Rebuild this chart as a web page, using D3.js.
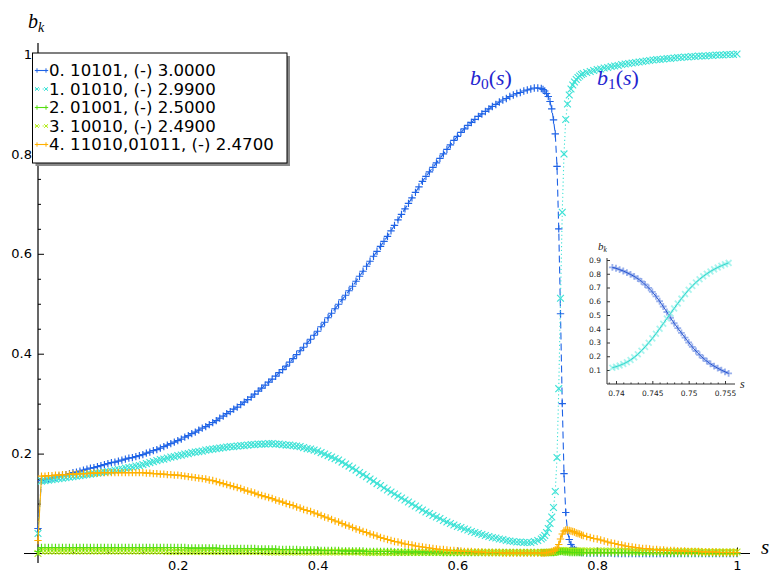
<!DOCTYPE html>
<html>
<head>
<meta charset="utf-8">
<script src="https://cdn.jsdelivr.net/npm/d3@7"></script>
<style>
body { margin: 0; background: #fff; }
text { font-family: "DejaVu Sans", sans-serif; }
.math { font-family: "Liberation Serif", serif; }
</style>
</head>
<body>
<svg id="chart" width="781" height="583"></svg>
<script>
// sampling of s (coarse, fine near the crossing, coarse again)
var sA = [
  0,0.005,0.01,0.015,0.02,0.025,0.03,0.035,0.04,0.045,
  0.05,0.055,0.06,0.065,0.07,0.075,0.08,0.085,0.09,0.095,
  0.1,0.105,0.11,0.115,0.12,0.125,0.13,0.135,0.14,0.145,
  0.15,0.155,0.16,0.165,0.17,0.175,0.18,0.185,0.19,0.195,
  0.2,0.205,0.21,0.215,0.22,0.225,0.23,0.235,0.24,0.245,
  0.25,0.255,0.26,0.265,0.27,0.275,0.28,0.285,0.29,0.295,
  0.3,0.305,0.31,0.315,0.32,0.325,0.33,0.335,0.34,0.345,
  0.35,0.355,0.36,0.365,0.37,0.375,0.38,0.385,0.39,0.395,
  0.4,0.405,0.41,0.415,0.42,0.425,0.43,0.435,0.44,0.445,
  0.45,0.455,0.46,0.465,0.47,0.475,0.48,0.485,0.49,0.495,
  0.5,0.505,0.51,0.515,0.52,0.525,0.53,0.535,0.54,0.545,
  0.55,0.555,0.56,0.565,0.57,0.575,0.58,0.585,0.59,0.595,
  0.6,0.605,0.61,0.615,0.62,0.625,0.63,0.635,0.64,0.645,
  0.65,0.655,0.66,0.665,0.67,0.675,0.68,0.685,0.69,0.695,
  0.7,0.705,0.71,0.715];
var sB = [
  0.72,0.7225,0.725,0.7275,
  0.73,0.7325,0.735,0.7375,
  0.74,0.7425,0.745,0.7475,
  0.75,0.7525,0.755,0.7575,
  0.76,0.7625,0.765,0.7675,
  0.77,0.7725,0.775,0.7775,
  0.78];
var sC = [
  0.785,0.79,0.795,
  0.8,0.805,0.81,0.815,0.82,0.825,0.83,0.835,0.84,0.845,
  0.85,0.855,0.86,0.865,0.87,0.875,0.88,0.885,0.89,0.895,
  0.9,0.905,0.91,0.915,0.92,0.925,0.93,0.935,0.94,0.945,
  0.95,0.955,0.96,0.965,0.97,0.975,0.98,0.985,0.99,0.995,
  1];

// b0
var b0A = [
  0.050,0.146,0.148,0.149,0.151,0.153,0.155,0.156,0.158,0.160,
  0.162,0.163,0.165,0.167,0.169,0.171,0.172,0.174,0.176,0.178,
  0.180,0.182,0.183,0.185,0.187,0.189,0.191,0.192,0.194,0.196,
  0.198,0.201,0.203,0.206,0.208,0.211,0.214,0.217,0.220,0.223,
  0.226,0.229,0.233,0.236,0.240,0.243,0.247,0.251,0.254,0.258,
  0.262,0.266,0.271,0.275,0.280,0.284,0.289,0.293,0.298,0.303,
  0.308,0.313,0.319,0.325,0.331,0.337,0.343,0.349,0.355,0.362,
  0.368,0.375,0.383,0.390,0.398,0.406,0.413,0.421,0.429,0.437,
  0.445,0.454,0.463,0.472,0.481,0.490,0.499,0.508,0.517,0.526,
  0.535,0.545,0.555,0.565,0.575,0.585,0.595,0.605,0.615,0.625,
  0.635,0.646,0.657,0.668,0.679,0.690,0.701,0.712,0.723,0.734,
  0.745,0.755,0.764,0.773,0.782,0.791,0.800,0.809,0.818,0.827,
  0.835,0.843,0.850,0.857,0.863,0.869,0.875,0.880,0.885,0.890,
  0.895,0.899,0.904,0.908,0.911,0.915,0.918,0.921,0.923,0.926,
  0.928,0.930,0.932,0.932];
var b0B = [
  0.931,0.929,0.926,0.921,
  0.915,0.905,0.890,0.868,
  0.840,0.775,0.650,0.480,
  0.300,0.160,0.082,0.045,
  0.028,0.018,0.012,0.008,
  0.006,0.004,0.003,0.002,
  0.002];
var b0C = [
  0.001,0.001,0.001,
  0.001,0.001,0.001,0.001,0.001,0,0,0,0,0,
  0,0,0,0,0,0,0,0,0,0,
  0,0,0,0,0,0,0,0,0,0,
  0,0,0,0,0,0,0,0,0,0,
  0];

// b1
var b1A = [
  0.040,0.145,0.146,0.147,0.148,0.149,0.150,0.151,0.152,0.153,
  0.154,0.155,0.156,0.157,0.158,0.159,0.160,0.161,0.162,0.163,
  0.164,0.165,0.167,0.168,0.169,0.171,0.172,0.173,0.175,0.176,
  0.178,0.180,0.182,0.184,0.186,0.188,0.189,0.191,0.193,0.194,
  0.196,0.197,0.199,0.200,0.202,0.203,0.204,0.205,0.207,0.208,
  0.209,0.210,0.211,0.212,0.213,0.214,0.214,0.215,0.216,0.216,
  0.217,0.218,0.218,0.219,0.219,0.219,0.220,0.220,0.219,0.219,
  0.218,0.217,0.217,0.216,0.215,0.214,0.212,0.210,0.209,0.207,
  0.205,0.202,0.199,0.196,0.193,0.190,0.187,0.183,0.179,0.175,
  0.171,0.167,0.162,0.158,0.154,0.149,0.145,0.140,0.136,0.131,
  0.127,0.123,0.119,0.115,0.111,0.107,0.103,0.099,0.095,0.091,
  0.087,0.083,0.080,0.076,0.073,0.070,0.066,0.063,0.060,0.057,
  0.054,0.052,0.049,0.047,0.044,0.042,0.040,0.038,0.036,0.034,
  0.032,0.031,0.029,0.028,0.026,0.025,0.024,0.023,0.023,0.022,
  0.022,0.022,0.024,0.026];
var b1B = [
  0.029,0.032,0.036,0.042,
  0.050,0.060,0.073,0.092,
  0.124,0.192,0.330,0.511,
  0.683,0.800,0.869,0.900,
  0.918,0.930,0.938,0.944,
  0.949,0.953,0.956,0.959,
  0.961];
var b1C = [
  0.963,0.965,0.967,
  0.969,0.970,0.972,0.973,0.975,0.976,0.977,0.979,0.980,0.981,
  0.982,0.983,0.984,0.985,0.986,0.987,0.988,0.989,0.989,0.990,
  0.991,0.991,0.992,0.993,0.993,0.994,0.994,0.995,0.995,0.996,
  0.996,0.996,0.997,0.997,0.998,0.998,0.998,0.999,0.999,0.999,
  1.000];

// b2
var b2A = [
  0.004,0.012,0.012,0.012,0.012,0.012,0.012,0.012,0.012,0.012,
  0.012,0.012,0.012,0.012,0.012,0.012,0.012,0.012,0.012,0.012,
  0.012,0.012,0.012,0.012,0.012,0.012,0.012,0.012,0.012,0.012,
  0.012,0.012,0.012,0.012,0.012,0.012,0.012,0.012,0.012,0.012,
  0.012,0.012,0.012,0.011,0.011,0.011,0.011,0.011,0.011,0.011,
  0.011,0.011,0.010,0.010,0.010,0.010,0.010,0.010,0.010,0.010,
  0.010,0.010,0.010,0.009,0.009,0.009,0.009,0.009,0.009,0.008,
  0.008,0.008,0.008,0.008,0.008,0.007,0.007,0.007,0.007,0.007,
  0.007,0.006,0.006,0.006,0.006,0.006,0.006,0.005,0.005,0.005,
  0.005,0.005,0.005,0.005,0.004,0.004,0.004,0.004,0.004,0.004,
  0.004,0.004,0.003,0.003,0.003,0.003,0.003,0.003,0.003,0.003,
  0.003,0.003,0.003,0.003,0.003,0.003,0.002,0.002,0.002,0.002,
  0.002,0.002,0.002,0.002,0.002,0.002,0.002,0.002,0.002,0.002,
  0.002,0.002,0.002,0.002,0.002,0.002,0.002,0.002,0.002,0.002,
  0.002,0.002,0.002,0.002];
var b2B = [
  0.002,0.002,0.002,0.002,
  0.002,0.002,0.002,0.002,
  0.003,0.003,0.004,0.004,
  0.004,0.003,0.003,0.003,
  0.002,0.002,0.002,0.002,
  0.002,0.002,0.002,0.002,
  0.002];
var b2C = [
  0.002,0.002,0.002,
  0.002,0.002,0.002,0.002,0.002,0.002,0.002,0.002,0.002,0.002,
  0.002,0.002,0.002,0.002,0.002,0.002,0.002,0.002,0.002,0.002,
  0.001,0.001,0.001,0.001,0.001,0.001,0.001,0.001,0.001,0.001,
  0.001,0.001,0.001,0.001,0.001,0.001,0.001,0.001,0.001,0.001,
  0.001];

// b3
var b3A = [
  0.000,0.005,0.005,0.005,0.005,0.005,0.005,0.005,0.005,0.005,
  0.005,0.005,0.005,0.005,0.005,0.005,0.005,0.005,0.005,0.005,
  0.005,0.005,0.005,0.005,0.005,0.005,0.005,0.005,0.005,0.005,
  0.005,0.005,0.005,0.005,0.005,0.005,0.005,0.004,0.004,0.004,
  0.004,0.004,0.004,0.004,0.004,0.004,0.004,0.004,0.004,0.004,
  0.004,0.004,0.004,0.004,0.004,0.004,0.004,0.004,0.004,0.004,
  0.004,0.004,0.004,0.004,0.004,0.003,0.003,0.003,0.003,0.003,
  0.003,0.003,0.003,0.003,0.003,0.003,0.003,0.003,0.003,0.003,
  0.003,0.003,0.003,0.003,0.003,0.003,0.003,0.003,0.003,0.003,
  0.003,0.003,0.003,0.002,0.002,0.002,0.002,0.002,0.002,0.002,
  0.002,0.002,0.002,0.002,0.002,0.002,0.002,0.002,0.002,0.002,
  0.002,0.002,0.002,0.002,0.002,0.002,0.002,0.002,0.002,0.002,
  0.002,0.002,0.002,0.002,0.002,0.002,0.002,0.002,0.002,0.002,
  0.002,0.002,0.002,0.002,0.002,0.002,0.002,0.002,0.002,0.002,
  0.002,0.002,0.002,0.002];
var b3B = [
  0.002,0.002,0.002,0.002,
  0.002,0.002,0.002,0.002,
  0.003,0.004,0.005,0.006,
  0.006,0.006,0.005,0.005,
  0.005,0.005,0.005,0.005,
  0.005,0.005,0.005,0.005,
  0.005];
var b3C = [
  0.005,0.005,0.005,
  0.005,0.005,0.005,0.005,0.005,0.005,0.005,0.005,0.005,0.005,
  0.004,0.004,0.004,0.004,0.004,0.004,0.004,0.004,0.004,0.004,
  0.004,0.004,0.004,0.004,0.004,0.004,0.004,0.004,0.004,0.004,
  0.003,0.003,0.003,0.003,0.003,0.003,0.003,0.003,0.003,0.003,
  0.003];

// b4
var b4A = [
  0.026,0.155,0.155,0.156,0.156,0.157,0.157,0.158,0.158,0.159,
  0.159,0.159,0.160,0.160,0.160,0.161,0.161,0.161,0.162,0.162,
  0.162,0.162,0.162,0.162,0.162,0.162,0.162,0.162,0.162,0.162,
  0.162,0.161,0.161,0.160,0.160,0.159,0.159,0.158,0.158,0.157,
  0.157,0.156,0.155,0.154,0.153,0.152,0.151,0.150,0.149,0.147,
  0.146,0.144,0.142,0.140,0.138,0.136,0.134,0.132,0.130,0.127,
  0.125,0.123,0.121,0.118,0.116,0.114,0.112,0.110,0.107,0.105,
  0.103,0.100,0.098,0.096,0.093,0.091,0.088,0.086,0.084,0.081,
  0.079,0.076,0.073,0.071,0.068,0.065,0.063,0.060,0.057,0.055,
  0.052,0.049,0.047,0.044,0.042,0.039,0.037,0.035,0.032,0.030,
  0.028,0.026,0.024,0.023,0.021,0.019,0.018,0.017,0.015,0.014,
  0.013,0.012,0.011,0.010,0.009,0.008,0.008,0.007,0.006,0.006,
  0.005,0.005,0.004,0.004,0.004,0.003,0.003,0.003,0.002,0.002,
  0.002,0.002,0.002,0.001,0.001,0.001,0.001,0.001,0.001,0.001,
  0.001,0.001,0.001,0.001];
var b4B = [
  0.001,0.001,0.001,0.002,
  0.002,0.003,0.004,0.005,
  0.007,0.011,0.018,0.029,
  0.039,0.045,0.047,0.047,
  0.046,0.045,0.044,0.043,
  0.041,0.040,0.039,0.037,
  0.036];
var b4C = [
  0.034,0.032,0.030,
  0.029,0.027,0.025,0.023,0.021,0.020,0.018,0.017,0.015,0.014,
  0.013,0.012,0.011,0.010,0.010,0.009,0.008,0.008,0.007,0.007,
  0.006,0.006,0.006,0.005,0.005,0.005,0.004,0.004,0.004,0.004,
  0.003,0.003,0.003,0.003,0.003,0.002,0.002,0.002,0.002,0.002,
  0.002];

// inset: zoom on the crossing
var sI = [
  0.7395,0.74,0.7405,0.741,0.7415,0.742,0.7425,0.743,0.7435,0.744,
  0.7445,0.745,0.7455,0.746,0.7465,0.747,0.7475,0.748,0.7485,0.749,
  0.7495,0.75,0.7505,0.751,0.7515,0.752,0.7525,0.753,0.7535,0.754,
  0.7545,0.755,0.7555];
var b0I = [
  0.846,0.840,0.830,0.820,0.808,0.795,0.781,0.764,0.745,0.722,
  0.697,0.668,0.636,0.600,0.562,0.522,0.480,0.440,0.405,0.370,
  0.335,0.300,0.268,0.238,0.210,0.186,0.164,0.145,0.128,0.113,
  0.099,0.087,0.075];
var b1I = [
  0.117,0.124,0.133,0.144,0.157,0.173,0.192,0.214,0.240,0.268,
  0.298,0.330,0.364,0.400,0.437,0.474,0.511,0.548,0.584,0.619,
  0.652,0.683,0.711,0.737,0.760,0.781,0.800,0.817,0.832,0.846,
  0.858,0.869,0.879];

var seriesNames = ["0. 10101, (-) 3.0000", "1. 01010, (-) 2.9900", "2. 01001, (-) 2.5000",
                   "3. 10010, (-) 2.4900", "4. 11010,01011, (-) 2.4700"];
var seriesColors = ["#1f63e6", "#3ee2d6", "#55dd11", "#b4ec1c", "#ffb000"];
var seriesMarkers = ["+", "x", "+", "x", "+"];
var seriesDash = ["7,4", "1.2,2.6", null, "1.2,2.6", null];

var xTicks = [0.2, 0.4, 0.6, 0.8, 1];
var yTicks = [0.2, 0.4, 0.6, 0.8, 1];
var minorTicks = [0.05, 0.1, 0.15, 0.25, 0.3, 0.35, 0.45, 0.5, 0.55, 0.65, 0.7, 0.75, 0.85, 0.9, 0.95];
var insetXTicks = [0.74, 0.745, 0.75, 0.755];
var insetXMinor = [0.739, 0.741, 0.742, 0.743, 0.744, 0.746, 0.747, 0.748, 0.749, 0.751, 0.752, 0.753, 0.754];
var insetYTicks = [0.1, 0.2, 0.3, 0.4, 0.5, 0.6, 0.7, 0.8, 0.9];

var sAll = sA.concat(sB, sC);
var values = [b0A.concat(b0B, b0C), b1A.concat(b1B, b1C), b2A.concat(b2B, b2C),
              b3A.concat(b3B, b3C), b4A.concat(b4B, b4C)];
// draw order: the lime band sits on top of the yellow-green one
var drawOrder = [0, 1, 3, 2, 4];

var svg = d3.select("#chart");
var x = d3.scaleLinear().domain([0, 1]).range([38, 737]);
var y = d3.scaleLinear().domain([0, 1]).range([553.5, 54]);

function markerPath(m, r) {
  if (m == "+") return "M" + (-r) + ",0H" + r + "M0," + (-r) + "V" + r;
  var q = r * 0.85;
  return "M" + (-q) + "," + (-q) + "L" + q + "," + q + "M" + (-q) + "," + q + "L" + q + "," + (-q);
}

// axes
function axisStyle(g) {
  g.select(".domain").remove();
  g.selectAll("line").attr("stroke", "#000");
  g.selectAll("text").attr("font-size", 13).attr("fill", "#000");
}
svg.append("g").attr("transform", "translate(0," + y(0) + ")")
  .call(d3.axisBottom(x).tickValues(minorTicks).tickSize(-3).tickFormat(""))
  .call(axisStyle);
svg.append("g").attr("transform", "translate(0," + y(0) + ")")
  .call(d3.axisBottom(x).tickValues(xTicks).tickSize(-6).tickPadding(7).tickFormat(d3.format("~g")))
  .call(axisStyle);
svg.append("g").attr("transform", "translate(" + x(0) + ",0)")
  .call(d3.axisLeft(y).tickValues(minorTicks).tickSize(-3).tickFormat(""))
  .call(axisStyle);
svg.append("g").attr("transform", "translate(" + x(0) + ",0)")
  .call(d3.axisLeft(y).tickValues(yTicks).tickSize(-6).tickPadding(6).tickFormat(d3.format("~g")))
  .call(axisStyle);
svg.append("line").attr("x1", 24).attr("x2", 750).attr("y1", y(0)).attr("y2", y(0))
  .attr("stroke", "#000").attr("stroke-width", 1.2);
svg.append("line").attr("x1", x(0)).attr("x2", x(0)).attr("y1", 43).attr("y2", 563)
  .attr("stroke", "#000").attr("stroke-width", 1.2);

// curves
var line = d3.line().x(function(d) { return x(d[0]); }).y(function(d) { return y(d[1]); });
drawOrder.forEach(function(k) {
  var vals = values[k];
  var pts = sAll.map(function(s, i) { return [s, vals[i]]; });
  var g = svg.append("g").attr("class", "series");
  g.append("path").attr("d", line(pts)).attr("fill", "none")
    .attr("stroke", seriesColors[k]).attr("stroke-width", 1.1)
    .attr("stroke-dasharray", seriesDash[k]);
  g.selectAll("path.mk").data(pts).enter().append("path")
    .attr("class", "mk")
    .attr("transform", function(d) { return "translate(" + x(d[0]) + "," + y(d[1]) + ")"; })
    .attr("d", markerPath(seriesMarkers[k], seriesMarkers[k] == "+" ? 3.7 : 4))
    .attr("stroke", seriesColors[k]).attr("stroke-width", 1.15).attr("fill", "none");
});

// math labels
function mathLabel(xp, yp, size, color, sub, subItalic, withArg) {
  var t = svg.append("text").attr("class", "math").attr("x", xp).attr("y", yp)
    .attr("font-size", size).attr("fill", color);
  t.append("tspan").attr("font-style", "italic").text("b");
  t.append("tspan").attr("font-size", size * 0.7).attr("dy", size * 0.2)
    .attr("font-style", subItalic ? "italic" : "normal").text(sub);
  if (withArg) {
    t.append("tspan").attr("dy", -size * 0.2).text("(");
    t.append("tspan").attr("font-style", "italic").text("s");
    t.append("tspan").text(")");
  }
}
mathLabel(28, 28, 20, "#000", "k", true, false);
mathLabel(470, 85, 22, "#2424cf", "0", false, true);
mathLabel(597, 85, 22, "#2424cf", "1", false, true);
svg.append("text").attr("class", "math").attr("x", 761).attr("y", 554)
  .attr("font-size", 21).attr("font-style", "italic").text("s");

// legend
var lg = svg.append("g");
lg.append("rect").attr("x", 35.5).attr("y", 56).attr("width", 254.5).attr("height", 110).attr("fill", "#8a8a8a");
lg.append("rect").attr("x", 32.5).attr("y", 53).attr("width", 254.5).attr("height", 110)
  .attr("fill", "#fff").attr("stroke", "#000").attr("stroke-width", 1);
seriesNames.forEach(function(name, k) {
  var by = 76 + k * 18.5;
  var cy = by - 5.5;
  lg.append("line").attr("x1", 35).attr("x2", 48).attr("y1", cy).attr("y2", cy)
    .attr("stroke", seriesColors[k]).attr("stroke-width", 1.1)
    .attr("stroke-dasharray", seriesDash[k] == "7,4" ? null : seriesDash[k]);
  [37, 46].forEach(function(mx) {
    lg.append("path").attr("transform", "translate(" + mx + "," + cy + ")")
      .attr("d", markerPath(seriesMarkers[k], 2.2))
      .attr("stroke", seriesColors[k]).attr("stroke-width", 1).attr("fill", "none");
  });
  lg.append("text").attr("x", 49).attr("y", by).attr("font-size", 16.6).attr("fill", "#000").text(name);
});

// inset
var xi = d3.scaleLinear().domain([0.74, 0.755]).range([616, 725]);
var yi = d3.scaleLinear().domain([0.1, 0.9]).range([370, 260]);
var ig = svg.append("g");
function insetStyle(g) {
  g.select(".domain").remove();
  g.selectAll("line").attr("stroke", "#333");
  g.selectAll("text").attr("font-size", 7.5).attr("fill", "#222");
}
ig.append("g").attr("transform", "translate(0,384)")
  .call(d3.axisBottom(xi).tickValues(insetXMinor).tickSize(-1.5).tickFormat(""))
  .call(insetStyle);
ig.append("g").attr("transform", "translate(0,384)")
  .call(d3.axisBottom(xi).tickValues(insetXTicks).tickSize(-3).tickPadding(7).tickFormat(d3.format("~g")))
  .call(insetStyle);
ig.append("g").attr("transform", "translate(607,0)")
  .call(d3.axisLeft(yi).tickValues(insetYTicks).tickSize(-3).tickPadding(6).tickFormat(d3.format(".1f")))
  .call(insetStyle);
ig.append("line").attr("x1", 607).attr("x2", 735).attr("y1", 384).attr("y2", 384).attr("stroke", "#333");
ig.append("line").attr("x1", 607).attr("x2", 607).attr("y1", 258).attr("y2", 384).attr("stroke", "#333");
[[b0I, "#2452d0", "#7897e6", "+"], [b1I, "#2fd6cc", "#8ff0e8", "x"]].forEach(function(c) {
  var pts = sI.map(function(s, i) { return [s, c[0][i]]; });
  ig.selectAll(null).data(pts).enter().append("path")
    .attr("transform", function(d) { return "translate(" + xi(d[0]) + "," + yi(d[1]) + ")"; })
    .attr("d", markerPath(c[3], 3.4))
    .attr("stroke", c[2]).attr("stroke-width", 1.8).attr("fill", "none").attr("opacity", 0.75);
  ig.append("path").attr("fill", "none").attr("stroke", c[1]).attr("stroke-width", 1)
    .attr("d", d3.line().x(function(d) { return xi(d[0]); }).y(function(d) { return yi(d[1]); })(pts));
});
var ik = ig.append("text").attr("class", "math").attr("x", 598).attr("y", 250).attr("font-size", 11).attr("fill", "#222");
ik.append("tspan").attr("font-style", "italic").text("b");
ik.append("tspan").attr("font-style", "italic").attr("font-size", 7.5).attr("dy", 2).text("k");
ig.append("text").attr("class", "math").attr("x", 740).attr("y", 388)
  .attr("font-size", 12).attr("font-style", "italic").attr("fill", "#222").text("s");
</script>
</body>
</html>
